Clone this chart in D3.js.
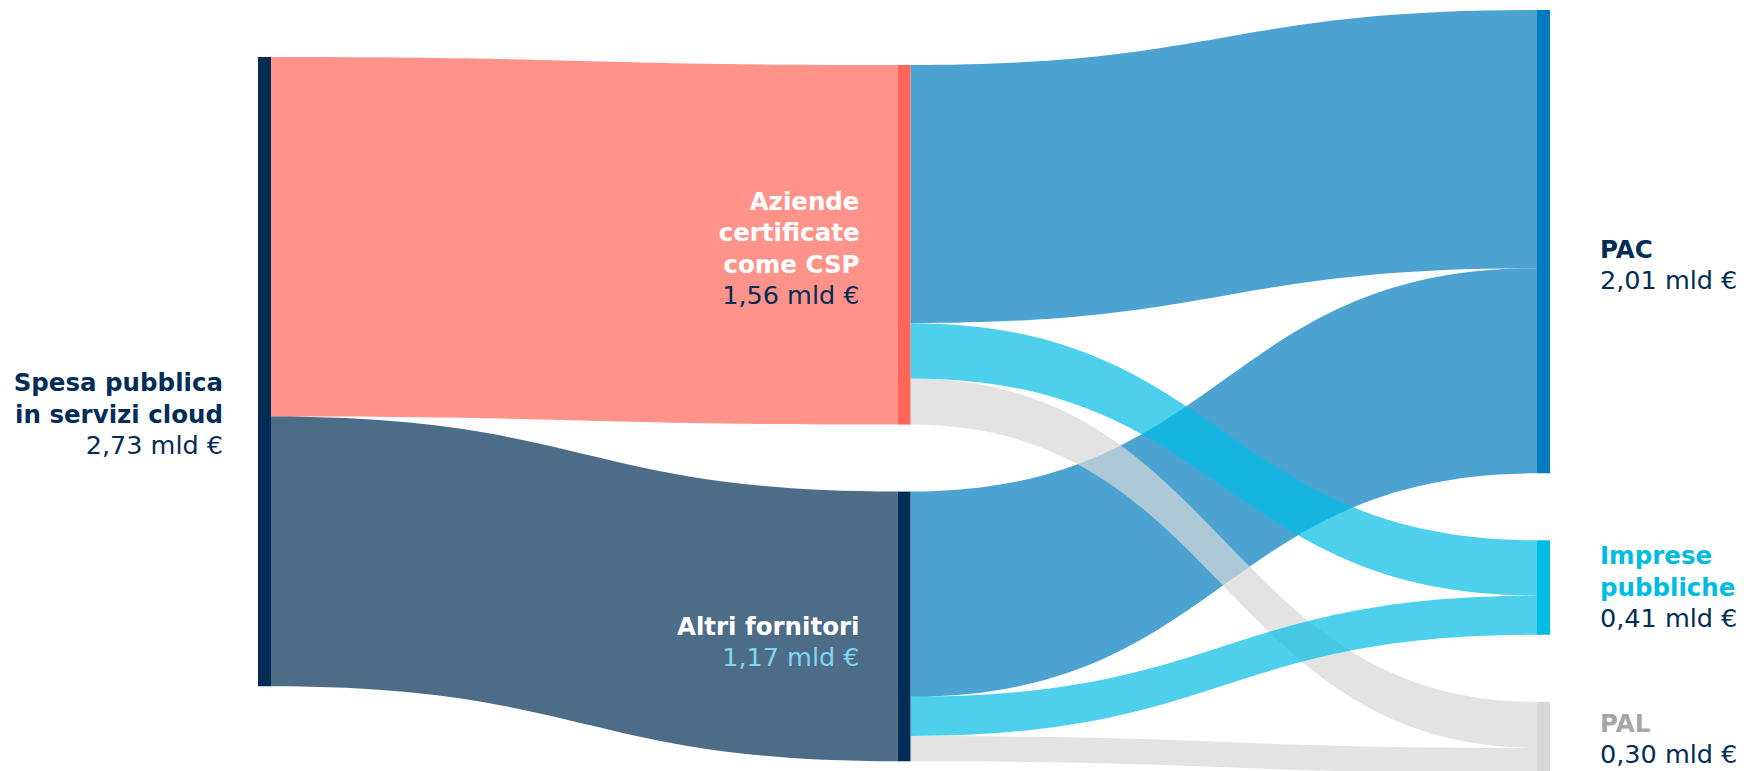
<!DOCTYPE html>
<html>
<head>
<meta charset="utf-8">
<script src="https://cdn.jsdelivr.net/npm/d3@7"></script>
<style>
	body { margin: 0; background: #ffffff; }
	#graphic { width: 1749px; height: 771px; overflow: hidden; }
	text { font-family: "DejaVu Sans", sans-serif; font-size: 25.5px; }
	tspan.title { font-size: 24.5px; font-weight: bold; }
</style>
</head>
<body>
<div id="graphic"></div>
<script>
// nodes (column, title lines, value label)
var nodeIds = ["spesa", "csp", "altri", "pac", "imprese", "pal"];
var nodeColumns = [0, 1, 1, 2, 2, 2];
var nodeTitles = [
	["Spesa pubblica", "in servizi cloud"],
	["Aziende", "certificate", "come CSP"],
	["Altri fornitori"],
	["PAC"],
	["Imprese", "pubbliche"],
	["PAL"]
];
var nodeValueLabels = ["2,73 mld €", "1,56 mld €", "1,17 mld €", "2,01 mld €", "0,41 mld €", "0,30 mld €"];

// flows in mld €
var linkSources = ["spesa", "spesa", "csp", "csp", "csp", "altri", "altri", "altri"];
var linkTargets = ["csp", "altri", "pac", "imprese", "pal", "pac", "imprese", "pal"];
var linkValues = [1.56, 1.17, 1.12, 0.24, 0.20, 0.89, 0.17, 0.11];

// styles
var nodeColours = {
	spesa: "#022d56",
	csp: "#ff6559",
	altri: "#022d56",
	pac: "#007cbf",
	imprese: "#00bce4",
	pal: "#d7d7d7"
};
var titleColours = {
	spesa: "#022d56",
	csp: "#ffffff",
	altri: "#ffffff",
	pac: "#022d56",
	imprese: "#00bce4",
	pal: "#a6a6a6"
};
var valueColours = {
	spesa: "#022d56",
	csp: "#022d56",
	altri: "#7fd6f1",
	pac: "#022d56",
	imprese: "#022d56",
	pal: "#022d56"
};

// layout
var width = 1749, height = 771;
var nodeWidth = 13, nodePadding = 67;
var columnTops = [57, 65, 10];
var lineHeight = 31.5;
var labelShift = { spesa: 43, csp: 4, altri: 16, pac: 24, imprese: 0, pal: 2 };
var drawOrder = ["csp", "altri", "pac", "pal", "imprese"];

var x = d3.scaleLinear().domain([0, 2]).range([258, 1537]);
var y = d3.scaleLinear().domain([0, 1]).range([0, 230.5]);

var svg = d3.select("#graphic")
	.append("svg")
	.attr("width", width)
	.attr("height", height);

// build node + link objects
var nodes = nodeIds.map(function(id, i) {
	return {
		id: id,
		col: nodeColumns[i],
		titles: nodeTitles[i],
		label: nodeValueLabels[i],
		out: [],
		inc: []
	};
});
var byId = {};
nodes.forEach(function(n) { byId[n.id] = n; });

var links = linkValues.map(function(v, i) {
	var l = { source: byId[linkSources[i]], target: byId[linkTargets[i]], value: v };
	l.source.out.push(l);
	l.target.inc.push(l);
	return l;
});

// node sizes and positions
[0, 1, 2].forEach(function(c) {
	var top = columnTops[c];
	nodes.filter(function(n) { return n.col == c; }).forEach(function(n) {
		n.value = Math.max(d3.sum(n.out, function(l) { return l.value; }), d3.sum(n.inc, function(l) { return l.value; }));
		n.x0 = x(c);
		n.x1 = n.x0 + nodeWidth;
		n.y0 = top;
		n.y1 = top + y(n.value);
		top = n.y1 + nodePadding;
	});
});

// stack links on each node
nodes.forEach(function(n) {
	var sy = n.y0;
	n.out.forEach(function(l) {
		l.sy0 = sy;
		sy += y(l.value);
		l.sy1 = sy;
	});
	var ty = n.y0;
	n.inc.forEach(function(l) {
		l.ty0 = ty;
		ty += y(l.value);
		l.ty1 = ty;
	});
});

function bandPath(l) {
	var x0 = l.source.x1, x1 = l.target.x0, xm = (x0 + x1) / 2;
	var p = d3.path();
	p.moveTo(x0, l.sy0);
	p.bezierCurveTo(xm, l.sy0, xm, l.ty0, x1, l.ty0);
	p.lineTo(x1, l.ty1);
	p.bezierCurveTo(xm, l.ty1, xm, l.sy1, x0, l.sy1);
	p.closePath();
	return p.toString();
}

var sortedLinks = links.slice().sort(function(a, b) {
	return drawOrder.indexOf(a.target.id) - drawOrder.indexOf(b.target.id);
});

svg.append("g")
	.attr("class", "links")
	.selectAll("path")
	.data(sortedLinks)
	.enter()
	.append("path")
	.attr("d", bandPath)
	.attr("fill", function(d) { return nodeColours[d.target.id]; })
	.attr("fill-opacity", 0.7);

svg.append("g")
	.attr("class", "nodes")
	.selectAll("rect")
	.data(nodes)
	.enter()
	.append("rect")
	.attr("x", function(d) { return d.x0; })
	.attr("y", function(d) { return d.y0; })
	.attr("width", nodeWidth)
	.attr("height", function(d) { return d.y1 - d.y0; })
	.attr("fill", function(d) { return nodeColours[d.id]; });

// labels
var labels = svg.append("g")
	.attr("class", "labels")
	.selectAll("text")
	.data(nodes)
	.enter()
	.append("text")
	.attr("text-anchor", function(d) { return d.col == 2 ? "start" : "end"; })
	.attr("transform", function(d) {
		var n = d.titles.length + 1;
		var lx = d.col == 2 ? d.x1 + 50 : d.x0 - (d.col == 0 ? 35 : 38);
		var ly = (d.y0 + d.y1) / 2 - (n - 1) * lineHeight / 2 + 8 + labelShift[d.id];
		return "translate(" + lx + "," + ly + ")";
	});

labels.each(function(d) {
	var t = d3.select(this);
	d.titles.forEach(function(line, i) {
		t.append("tspan")
			.attr("class", "title")
			.attr("x", 0)
			.attr("y", i * lineHeight)
			.attr("fill", titleColours[d.id])
			.text(line);
	});
	t.append("tspan")
		.attr("x", 0)
		.attr("y", d.titles.length * lineHeight)
		.attr("fill", valueColours[d.id])
		.text(d.label);
});
</script>
</body>
</html>
